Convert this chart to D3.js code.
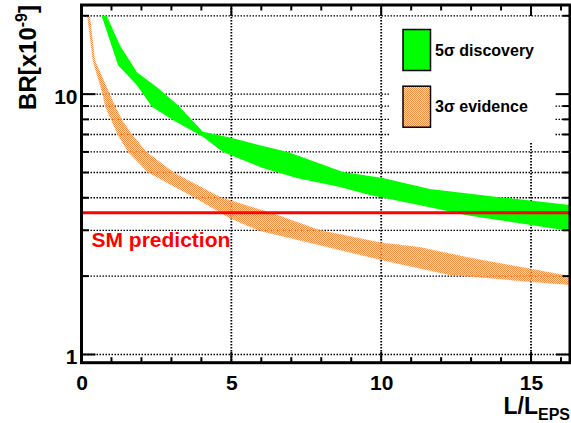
<!DOCTYPE html>
<html><head><meta charset="utf-8">
<script src="https://cdn.jsdelivr.net/npm/d3@7"></script>
<style>
html,body{margin:0;padding:0;background:#fff;}
svg{display:block;}
text{font-family:"Liberation Sans",Arial,sans-serif;font-weight:bold;}
</style></head>
<body><svg id="c" width="571" height="423"></svg>
<script>
// ---- data (BR in units of 1e-9 vs L/L_EPS) ----
const xTicks = [0, 5, 10, 15];
const yTicks = [1, 10];
const yGrid = [1, 2, 3, 4, 5, 6, 7, 8, 9, 10, 20];
const xGrid = [5, 10, 15];
const smValue = 3.5;

// 5 sigma discovery band: upper and lower edges
const green5HighX = [0.84, 1.28, 1.85, 2.52, 3.22, 4.05, 5.02, 5.95, 6.88, 7.35, 8.72, 10.05, 11.62, 13.95, 16.32];
const green5High  = [20, 15.42, 12.15, 10.64, 9.07, 7.17, 6.78, 6.37, 5.99, 5.73, 5.02, 4.76, 4.32, 4.02, 3.75];
const green5LowX  = [0.67, 1.22, 1.85, 2.35, 3.05, 4.05, 4.72, 6.05, 7.18, 8.62, 9.62, 11.62, 12.85, 16.32];
const green5Low   = [20, 12.92, 10.83, 8.94, 7.95, 6.86, 6.00, 5.20, 4.76, 4.40, 4.10, 3.68, 3.43, 2.98];

// 3 sigma evidence band: upper and lower edges
const orange3HighX = [0.28, 0.45, 0.95, 1.12, 1.35, 1.68, 2.18, 3.08, 4.68, 4.95, 5.72, 6.38, 7.95, 9.95, 11.28, 12.85, 16.32];
const orange3High  = [20, 13.5, 10.0, 9.0, 8.0, 7.0, 6.0, 5.0, 4.0, 3.92, 3.68, 3.49, 3.01, 2.70, 2.59, 2.37, 2.00];
const orange3LowX  = [0.19, 0.37, 0.70, 0.78, 0.98, 1.20, 1.55, 2.22, 3.78, 4.95, 5.95, 7.95, 9.95, 11.28, 12.28, 15.05, 16.32];
const orange3Low   = [20, 13.5, 10.0, 9.0, 8.0, 7.0, 6.0, 5.0, 4.0, 3.34, 2.98, 2.63, 2.31, 2.14, 2.02, 1.90, 1.85];

const legendLabels = ["5\u03c3 discovery", "3\u03c3 evidence"];

// ---- layout ----
const L = 81.5, R = 570, T = 5, B = 362.7;
const x = d3.scaleLinear().domain([0, 16.3]).range([L, R]);
const y = d3.scaleLog().domain([0.93, 22]).range([B, T]);

const svg = d3.select("#c");
const defs = svg.append("defs");
defs.append("clipPath").attr("id", "clip").append("rect")
  .attr("x", L).attr("y", T).attr("width", R - L).attr("height", B - T);
const pat = defs.append("pattern").attr("id", "hatch").attr("patternUnits", "userSpaceOnUse")
  .attr("width", 2).attr("height", 2);
pat.append("rect").attr("x", 0).attr("y", 0).attr("width", 2).attr("height", 2).attr("fill", "rgba(255,200,160,0.6)");
pat.append("rect").attr("x", 0).attr("y", 0).attr("width", 1).attr("height", 1).attr("fill", "#fb8c40");
pat.append("rect").attr("x", 1).attr("y", 1).attr("width", 1).attr("height", 1).attr("fill", "#fb8c40");

// grid
const grid = svg.append("g");
grid.selectAll("line.h").data(yGrid).join("line")
  .attr("x1", L).attr("x2", R).attr("y1", d => y(d)).attr("y2", d => y(d))
  .attr("stroke", "#000").attr("stroke-width", 1.3).attr("stroke-dasharray", "1.5,1.5");
grid.selectAll("line.v").data(xGrid).join("line")
  .attr("y1", T).attr("y2", B).attr("x1", d => x(d)).attr("x2", d => x(d))
  .attr("stroke", "#000").attr("stroke-width", 1.8).attr("stroke-dasharray", "1.5,1.5");

// bands
const plot = svg.append("g").attr("clip-path", "url(#clip)");
function band(hx, hy, lx, ly) {
  const pts = hx.map((v, i) => [x(v), y(hy[i])]);
  const low = lx.map((v, i) => [x(v), y(ly[i])]).reverse();
  return d3.line()(pts.concat(low)) + "Z";
}
plot.append("path").attr("d", band(orange3HighX, orange3High, orange3LowX, orange3Low))
  .attr("fill", "url(#hatch)");
plot.append("path").attr("d", band(green5HighX, green5High, green5LowX, green5Low))
  .attr("fill", "#00ff00");

// SM line
plot.append("line").attr("x1", L).attr("x2", R).attr("y1", y(smValue)).attr("y2", y(smValue))
  .attr("stroke", "#ff0000").attr("stroke-width", 3);
svg.append("text").attr("x", 91.5).attr("y", 247).attr("fill", "#ff0000")
  .attr("font-size", 21).text("SM prediction");

// legend
svg.append("rect").attr("x", 390).attr("y", 17).attr("width", 165).attr("height", 126).attr("fill", "#fff");
const lg = svg.append("g");
const fills = ["#00ff00", "url(#hatch)"];
legendLabels.forEach((lab, i) => {
  lg.append("rect").attr("x", 403).attr("y", 29.5 + i * 56.7).attr("width", 27.5).attr("height", 41)
    .attr("fill", fills[i]).attr("stroke", "#000").attr("stroke-width", 1.5);
  lg.append("text").attr("x", 435).attr("y", 56 + i * 56.3).attr("font-size", 16).text(lab);
});

// frame + ticks
const ax = svg.append("g").attr("stroke", "#000");
const xMinor = d3.range(0, 17);
xMinor.forEach(v => {
  const len = (v % 5 === 0) ? 11 : 5.5;
  ax.append("line").attr("x1", x(v)).attr("x2", x(v)).attr("y1", B).attr("y2", B - len).attr("stroke-width", 2);
  ax.append("line").attr("x1", x(v)).attr("x2", x(v)).attr("y1", T).attr("y2", T + len).attr("stroke-width", 2);
});
yGrid.forEach(v => {
  const len = (v === 1 || v === 10) ? 14 : 7.5;
  ax.append("line").attr("x1", L).attr("x2", L + len).attr("y1", y(v)).attr("y2", y(v)).attr("stroke-width", 2);
  ax.append("line").attr("x1", R).attr("x2", R - len).attr("y1", y(v)).attr("y2", y(v)).attr("stroke-width", 2);
});
svg.append("rect").attr("x", L).attr("y", T).attr("width", R - L).attr("height", B - T)
  .attr("fill", "none").attr("stroke", "#000").attr("stroke-width", 3);

// axes labels through d3 axes
const xa = svg.append("g").attr("transform", `translate(0,${B})`)
  .call(d3.axisBottom(x).tickValues(xTicks).tickSize(0).tickPadding(0).tickFormat(d3.format("d")));
xa.select(".domain").remove();
xa.selectAll("text").attr("font-size", 21).attr("font-family", null).attr("dy", null).attr("y", 27.5).attr("fill", "#000");
const ya = svg.append("g").attr("transform", `translate(${L},0)`)
  .call(d3.axisLeft(y).tickValues(yTicks).tickSize(0).tickPadding(0).tickFormat(d3.format("d")));
ya.select(".domain").remove();
ya.selectAll("text").attr("font-size", 21).attr("font-family", null).attr("dy", "0.45em").attr("x", -4).attr("fill", "#000");

// axis titles
const xt = svg.append("text").attr("x", 570).attr("y", 414).attr("text-anchor", "end").attr("font-size", 23);
xt.append("tspan").text("L/L");
xt.append("tspan").attr("font-size", 16).attr("dy", 6).text("EPS");
const yt = svg.append("text").attr("transform", "translate(36,5) rotate(-90)").attr("text-anchor", "end").attr("font-size", 24);
yt.append("tspan").text("BR[x10");
yt.append("tspan").attr("font-size", 16).attr("dy", -9).text("-9");
yt.append("tspan").attr("dy", 9).text("]");
</script></body></html>
